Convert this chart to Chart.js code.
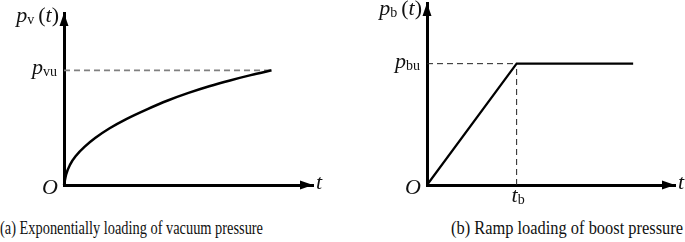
<!DOCTYPE html>
<html>
<head>
<meta charset="utf-8">
<script src="https://cdn.jsdelivr.net/npm/chart.js@4.4.0/dist/chart.umd.min.js"></script>
<style>
  body { margin: 0; background: #fff; width: 685px; height: 242px; position: relative; overflow: hidden; }
  .panel { position: absolute; top: 0; }
  .cap { position: absolute; top: 217px; font: 19px "Liberation Serif", serif; color: #111;
         white-space: nowrap; transform-origin: 0 0; }
</style>
</head>
<body>
<div class="panel" style="left:0"><canvas id="chartA" width="342" height="205"></canvas></div>
<div class="panel" style="left:342px"><canvas id="chartB" width="343" height="205"></canvas></div>
<div class="cap" id="capA" style="left:0">(a) Exponentially loading of vacuum pressure</div>
<div class="cap" id="capB" style="left:451px">(b) Ramp loading of boost pressure</div>

<script>
// (a) vacuum pressure, normalised: t / t_end and p / p_vu
const vacT = [0, 0.01, 0.03, 0.06, 0.1, 0.15, 0.22, 0.3, 0.4, 0.5, 0.6, 0.7, 0.8, 0.9, 1];
const vacP = [0, 0.09, 0.18, 0.26, 0.335, 0.41, 0.495, 0.575, 0.66, 0.737, 0.803, 0.861, 0.912, 0.958, 1];
// (b) boost pressure, t / t_b and p / p_bu
const rampT = [0, 1, 2.3];
const rampP = [0, 1, 1];

const pts = (xs, ys) => xs.map((x, i) => ({x: x, y: ys[i]}));
const serif = '"Liberation Serif", serif';

// draws things like p_v (t) from [text, font] pieces
function richText(ctx, parts, x, y, align) {
    let w = 0;
    parts.forEach(p => { ctx.font = p.f; w += ctx.measureText(p.t).width + (p.gap || 0); });
    let cx = align === 'right' ? x - w : (align === 'center' ? x - w / 2 : x);
    parts.forEach(p => {
        ctx.font = p.f;
        ctx.fillText(p.t, cx, y + (p.dy || 0));
        cx += ctx.measureText(p.t).width + (p.gap || 0);
    });
}
const it = s => ({t: s, f: 'italic 22px ' + serif});
const rm = s => ({t: s, f: '22px ' + serif});
const sub = (s, gap) => ({t: s, f: '14px ' + serif, dy: 2, gap: gap || 1});

// arrows + axis names, placed off the chart's own scales
const axisDecor = {
    id: 'axisDecor',
    afterDraw(chart, args, o) {
        const {ctx, chartArea: a} = chart;
        const xs = chart.scales.x, ys = chart.scales.y;
        const x0 = xs.getPixelForValue(0), y0 = ys.getPixelForValue(0);
        ctx.save();
        ctx.fillStyle = '#000';
        // y arrow
        ctx.beginPath();
        ctx.moveTo(x0, a.top);
        ctx.lineTo(x0 - 4.5, a.top + 13);
        ctx.lineTo(x0 + 4.5, a.top + 13);
        ctx.closePath();
        ctx.fill();
        // x arrow
        ctx.beginPath();
        ctx.moveTo(a.right, y0);
        ctx.lineTo(a.right - 13, y0 - 4.5);
        ctx.lineTo(a.right - 13, y0 + 4.5);
        ctx.closePath();
        ctx.fill();

        ctx.fillStyle = '#111';
        ctx.textBaseline = 'alphabetic';
        richText(ctx, [it('p'), sub(o.sub, 4), rm('('), it('t'), rm(')')], x0 - 5, a.top + o.nameDy, 'right');
        richText(ctx, [it('p'), sub(o.sub + 'u')], x0 - 6, ys.getPixelForValue(1) + 4, 'right');
        richText(ctx, [it('O')], x0 - 6, y0 + 9, 'right');
        richText(ctx, [it('t')], a.right + 3, y0 + 4, 'left');
        if (o.tick) {
            richText(ctx, [it('t'), sub(o.tick)], xs.getPixelForValue(1) + 2, y0 + 17, 'center');
        }
        ctx.restore();
    }
};

function axes(xMax, yMax) {
    const ax = max => ({
        type: 'linear', min: 0, max: max,
        grid: {display: false, drawTicks: false},
        ticks: {display: false},
        border: {display: true, color: '#000', width: 3}
    });
    return {x: ax(xMax), y: ax(yMax)};
}

// (a)
new Chart(document.getElementById('chartA').getContext('2d'), {
    type: 'line',
    data: {
        datasets: [
            {
                data: pts(vacT, vacP),
                borderColor: '#000', borderWidth: 2.5,
                cubicInterpolationMode: 'monotone', pointRadius: 0, clip: false
            },
            {
                data: pts([0, vacT[vacT.length - 1]], [1, 1]),
                borderColor: '#808080', borderWidth: 1.8, borderDash: [6, 4],
                pointRadius: 0
            }
        ]
    },
    options: {
        responsive: false, animation: false, devicePixelRatio: 1,
        layout: {padding: {left: 64, top: 13, right: 29, bottom: 20}},
        plugins: {legend: {display: false}, tooltip: {enabled: false}, axisDecor: {sub: 'v', nameDy: 9}},
        scales: axes(1.2, 1.5)
    },
    plugins: [axisDecor]
});

// (b)
new Chart(document.getElementById('chartB').getContext('2d'), {
    type: 'line',
    data: {
        datasets: [
            {
                data: pts(rampT, rampP),
                borderColor: '#000', borderWidth: 2.2, pointRadius: 0, clip: false
            },
            {
                data: pts([0, rampT[1]], [1, 1]),
                borderColor: '#222', borderWidth: 1, borderDash: [6, 4], pointRadius: 0
            },
            {
                data: pts([rampT[1], rampT[1]], [0, 1]),
                borderColor: '#222', borderWidth: 1, borderDash: [6, 4], pointRadius: 0
            }
        ]
    },
    options: {
        responsive: false, animation: false, devicePixelRatio: 1,
        layout: {padding: {left: 85, top: 3, right: 10, bottom: 20}},
        plugins: {legend: {display: false}, tooltip: {enabled: false}, axisDecor: {sub: 'b', tick: 'b', nameDy: 12}},
        scales: axes(2.767, 1.5)
    },
    plugins: [axisDecor]
});

// squeeze captions to the widths they have in the figure
[['capA', 263], ['capB', 232]].forEach(([id, w]) => {
    const el = document.getElementById(id);
    el.style.transform = 'scaleX(' + (w / el.getBoundingClientRect().width) + ')';
});
</script>
</body>
</html>
